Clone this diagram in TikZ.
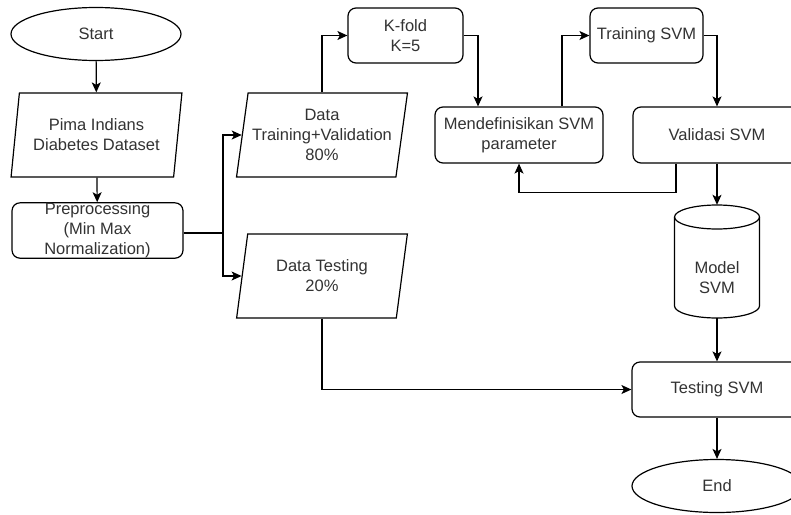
\documentclass[tikz,border=0pt]{standalone}
\usepackage{fontspec}
\setmainfont{Liberation Sans}
\usetikzlibrary{shapes.geometric,arrows.meta}
\definecolor{txt}{HTML}{333333}
\tikzset{
  base/.style={draw=black, line width=1.2pt, fill=white, text=txt, align=center,
    font=\fontsize{16.5}{20}\selectfont, inner sep=0pt},
  term/.style={base, ellipse, minimum width=170pt, minimum height=53pt},
  rbox/.style={base, rectangle, rounded corners=8pt},
  para/.style={base, trapezium, trapezium left angle=78, trapezium right angle=102,
    trapezium stretches=true, minimum width=171pt, minimum height=84pt},
  arr/.style={line width=1.2pt, -{Stealth[length=10pt,width=9pt,inset=2.5pt]}},
}
\begin{document}
\begin{tikzpicture}[x=1pt,y=-1pt]
\useasboundingbox (0,0) rectangle (791,514);
\clip (0,0) rectangle (791,514);
\fill[white] (0,0) rectangle (791,514);

\node[term] (start) at (96,34) {Start};
\node[para] (pima) at (96.5,135) {Pima Indians\\Diabetes Dataset};
\node[rbox, minimum width=171pt, minimum height=49pt] (pre) at (97.5,230.5) {Preprocessing\\(Min Max\\Normalization)};
\node[para] (dtv) at (322,135) {Data\\Training+Validation\\80\%};
\node[para] (dtest) at (322,276) {Data Testing\\20\%};
\node[rbox, minimum width=115pt, minimum height=55pt] (kfold) at (405.5,35.5) {K-fold\\K=5};
\node[rbox, minimum width=168pt, minimum height=56pt] (mend) at (519,135) {Mendefinisikan SVM\\parameter};
\node[rbox, minimum width=113pt, minimum height=55pt] (train) at (646.5,35.5) {Training SVM};
\node[rbox, minimum width=168pt, minimum height=56pt] (valid) at (717,135) {Validasi SVM};
\node[minimum width=85pt, minimum height=113pt, inner sep=0pt] (model) at (717,261.5) {};
\draw[line width=1.2pt, fill=white] (674.5,217) -- (674.5,306)
  arc[start angle=180, end angle=360, x radius=42.5pt, y radius=12pt]
  -- (759.5,217)
  arc[start angle=0, end angle=180, x radius=42.5pt, y radius=12pt] -- cycle;
\draw[line width=1.2pt] (674.5,217) arc[start angle=180, end angle=360, x radius=42.5pt, y radius=12pt];
\node[text=txt, align=center, font=\fontsize{16.5}{20}\selectfont] (modeltxt) at (717,278) {Model\\SVM};
\node[rbox, minimum width=170pt, minimum height=55pt] (testing) at (717,389.5) {Testing SVM};
\node[term] (end) at (717,486) {End};

\draw[arr] (start) -- (pima);
\draw[arr] (pima) -- (pre);
\coordinate (split) at (223,233);
\draw[line width=1.2pt] (pre.east |- split) -- (split);
\draw[arr] (split) |- (dtv);
\draw[arr] (split) |- (dtest);
\draw[arr] (dtv.center |- dtv.north) |- (kfold.west);
\draw[arr] (kfold.east) -| ([xshift=-41pt]mend.north);
\draw[arr] ([xshift=43pt]mend.north) |- (train.west);
\draw[arr] (train.east) -| (valid.north);
\draw[arr] ([xshift=-41pt]valid.south) -- ++(0,29) -| (mend.south);
\draw[arr] (valid.south) -- (model.north);
\draw[arr] (model.south) -- (testing.north);
\draw[arr] (dtest.center |- dtest.south) |- (testing.west);
\draw[arr] (testing.south) -- (end.north);
\end{tikzpicture}
\end{document}
